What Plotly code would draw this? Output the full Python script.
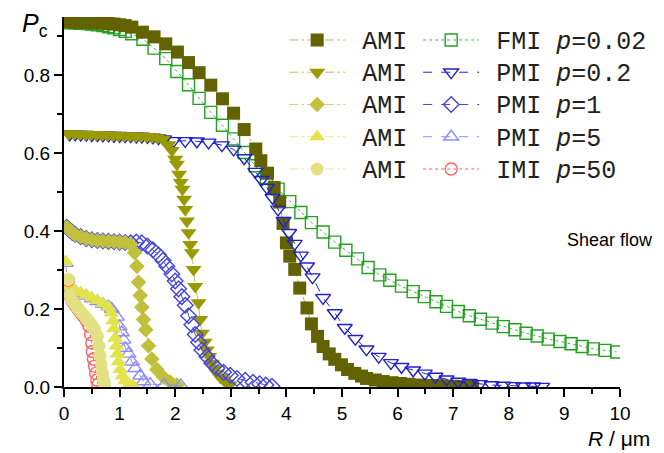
import plotly.graph_objects as go

# ---------------- data ----------------
R_ami_sq = [0.1,0.2,0.3,0.4,0.5,0.6,0.7,0.8,0.9,1.0,1.1,1.22,1.41,1.62,1.83,2.04,2.24,2.43,2.64,2.85,3.05,3.24,3.45,3.54,3.66,3.78,3.88,3.94,4.0,4.06,4.15,4.24,4.37,4.45,4.56,4.66,4.77,4.87,4.99,5.1,5.23,5.35,5.44,5.6,5.74,5.9,6.05,6.2,6.4,6.6,6.8,7.0,7.2,7.35]
P_ami_sq = [0.937,0.937,0.936,0.936,0.935,0.935,0.934,0.933,0.932,0.930,0.928,0.924,0.911,0.899,0.881,0.860,0.833,0.807,0.775,0.740,0.703,0.661,0.611,0.581,0.549,0.512,0.475,0.42,0.37,0.336,0.302,0.254,0.203,0.162,0.130,0.104,0.085,0.071,0.057,0.045,0.035,0.028,0.022,0.018,0.014,0.011,0.009,0.007,0.005,0.004,0.003,0.002,0.001,0.001]

R_fmi = [0.1,0.2,0.3,0.4,0.5,0.6,0.7,0.8,0.9,1.0,1.1,1.22,1.42,1.62,1.83,2.03,2.24,2.43,2.64,2.85,3.05,3.24,3.44,3.64,3.85,4.06,4.26,4.45,4.66,4.87,5.07,5.28,5.47,5.68,5.86,6.07,6.28,6.48,6.69,6.88,7.09,7.29,7.49,7.70,7.90,8.11,8.31,8.51,8.71,8.92,9.12,9.32,9.52,9.73,9.94]
P_fmi = [0.935,0.935,0.934,0.933,0.932,0.930,0.928,0.925,0.922,0.918,0.913,0.907,0.893,0.870,0.843,0.810,0.776,0.741,0.705,0.672,0.637,0.602,0.568,0.538,0.508,0.476,0.448,0.422,0.398,0.372,0.351,0.329,0.307,0.288,0.274,0.259,0.245,0.232,0.219,0.207,0.194,0.183,0.174,0.164,0.155,0.147,0.138,0.131,0.123,0.117,0.111,0.104,0.098,0.094,0.090]

R_ami_td = [0.08,0.18,0.28,0.38,0.48,0.58,0.68,0.78,0.88,0.98,1.08,1.18,1.28,1.38,1.48,1.58,1.68,1.78,1.88,1.94,2.0,2.03,2.07,2.10,2.13,2.16,2.18,2.21,2.24,2.27,2.30,2.33,2.36,2.42,2.45,2.48,2.53,2.57,2.61,2.66,2.70,2.75,2.81,2.87,2.93,2.98]
P_ami_td = [0.650,0.650,0.649,0.649,0.648,0.648,0.647,0.647,0.646,0.646,0.645,0.645,0.644,0.644,0.643,0.642,0.640,0.636,0.622,0.607,0.585,0.572,0.546,0.525,0.508,0.482,0.456,0.426,0.396,0.366,0.345,0.302,0.258,0.216,0.173,0.138,0.115,0.095,0.078,0.061,0.047,0.035,0.025,0.018,0.010,0.005]

R_pmi02 = [0.1,0.2,0.3,0.4,0.5,0.6,0.7,0.8,0.9,1.0,1.1,1.2,1.3,1.4,1.5,1.6,1.7,1.8,1.97,2.18,2.39,2.60,2.84,3.05,3.24,3.44,3.55,3.65,3.75,3.85,3.95,4.05,4.15,4.26,4.37,4.47,4.66,4.87,5.05,5.24,5.44,5.66,5.88,6.07,6.28,6.49,6.68,6.88,7.09,7.30,7.48,7.69,7.90,8.08,8.26,8.44,8.60]
P_pmi02 = [0.649,0.649,0.648,0.648,0.647,0.647,0.646,0.646,0.645,0.645,0.644,0.644,0.643,0.643,0.642,0.641,0.639,0.636,0.632,0.632,0.631,0.628,0.621,0.610,0.588,0.553,0.532,0.512,0.486,0.456,0.427,0.396,0.368,0.338,0.310,0.282,0.229,0.190,0.152,0.124,0.097,0.078,0.062,0.052,0.043,0.035,0.027,0.020,0.014,0.011,0.008,0.005,0.004,0.003,0.002,0.002,0.001]

R_ami_dm = [0.05,0.1,0.15,0.2,0.3,0.4,0.5,0.6,0.7,0.8,0.9,1.0,1.1,1.2,1.27,1.31,1.34,1.37,1.40,1.43,1.47,1.52,1.58,1.67,1.79,1.91,2.03]
P_ami_dm = [0.410,0.403,0.397,0.392,0.386,0.381,0.378,0.376,0.375,0.374,0.373,0.372,0.371,0.366,0.345,0.310,0.269,0.235,0.205,0.173,0.147,0.106,0.072,0.045,0.025,0.013,0.005]

R_pmi1 = [0.05,0.1,0.15,0.2,0.3,0.4,0.5,0.6,0.7,0.8,0.9,1.0,1.1,1.2,1.3,1.4,1.5,1.6,1.7,1.78,1.85,1.94,2.0,2.06,2.12,2.18,2.24,2.30,2.36,2.42,2.48,2.57,2.66,2.75,2.87,2.99,3.11,3.26,3.40,3.52,3.63,3.74]
P_pmi1 = [0.410,0.403,0.397,0.392,0.386,0.381,0.378,0.376,0.375,0.374,0.373,0.372,0.371,0.370,0.372,0.370,0.362,0.352,0.339,0.325,0.310,0.290,0.272,0.252,0.232,0.210,0.183,0.160,0.135,0.115,0.095,0.078,0.061,0.048,0.038,0.030,0.022,0.017,0.012,0.008,0.005,0.002]

R_ami_tu = [0.03,0.06,0.1,0.15,0.2,0.3,0.4,0.5,0.6,0.7,0.8,0.85,0.88,0.9,0.92,0.94,0.96,0.98,1.01,1.05,1.1,1.17,1.25]
P_ami_tu = [0.322,0.268,0.258,0.252,0.248,0.242,0.236,0.229,0.222,0.214,0.205,0.190,0.170,0.150,0.125,0.105,0.085,0.065,0.045,0.028,0.016,0.008,0.003]

R_pmi5 = [0.03,0.06,0.1,0.2,0.3,0.4,0.5,0.6,0.7,0.8,0.86,0.95,1.0,1.04,1.07,1.10,1.16,1.22,1.28,1.37,1.43,1.55,1.8,2.1]
P_pmi5 = [0.318,0.265,0.255,0.246,0.240,0.234,0.227,0.220,0.213,0.206,0.200,0.180,0.155,0.140,0.121,0.100,0.085,0.065,0.048,0.029,0.014,0.007,0.005,0.004]

R_ami_ci = [0.08,0.11,0.15,0.2,0.25,0.3,0.35,0.4,0.45,0.5,0.55,0.6,0.63,0.65,0.67,0.69,0.71,0.73]
P_ami_ci = [0.276,0.236,0.222,0.212,0.202,0.193,0.185,0.176,0.168,0.158,0.148,0.130,0.105,0.080,0.057,0.037,0.020,0.008]

R_imi = [0.08,0.11,0.15,0.2,0.25,0.3,0.35,0.4,0.45,0.48,0.50,0.51,0.53,0.55,0.57,0.59,0.61]
P_imi = [0.274,0.234,0.220,0.210,0.200,0.190,0.181,0.171,0.156,0.135,0.113,0.091,0.072,0.053,0.035,0.018,0.006]

fig = go.Figure()

def add(x, y, name, color, symbol, size, dash, legend, rank, mline=1.4, linecolor=None):
    fig.add_trace(go.Scatter(
        x=x, y=y, mode="lines+markers", name=name,
        line=dict(color=linecolor or color, width=1.0, dash=dash),
        marker=dict(symbol=symbol, size=size, color=color,
                    line=dict(width=mline if "open" in symbol else 0, color=color)),
        legend=legend, legendrank=rank))

def lab(t):
    return '<span style="font-size:20px"> </span><span style="font-size:25px">' + t + '</span>'

# draw order (back to front)
add(R_fmi, P_fmi, lab("FMI <i>p</i>=0.02"), "#22a022", "square-open", 12, "dot", "legend2", 1, linecolor="rgba(34,160,34,0.8)")
add(R_ami_sq, P_ami_sq, lab("AMI"), "#626200", "square", 13, "dashdot", "legend", 1, linecolor="rgba(98,98,0,0.5)")
add(R_pmi02, P_pmi02, lab("PMI <i>p</i>=0.2"), "#2020cc", "triangle-down-open", 13, "dash", "legend2", 2)
add(R_ami_td, P_ami_td, lab("AMI"), "#999900", "triangle-down", 14, "dashdot", "legend", 2, linecolor="rgba(153,153,0,0.6)")
add(R_pmi1, P_pmi1, lab("PMI <i>p</i>=1"), "#4444dd", "diamond-open", 12, "dash", "legend2", 3)
add(R_ami_dm, P_ami_dm, lab("AMI"), "#c0c03c", "diamond", 12, "dashdot", "legend", 3, linecolor="rgba(192,192,60,0.7)")
add(R_pmi5, P_pmi5, lab("PMI <i>p</i>=5"), "#8c8cff", "triangle-up-open", 13, "dash", "legend2", 4)
add(R_ami_tu, P_ami_tu, lab("AMI"), "#e3e34c", "triangle-up", 14, "dashdot", "legend", 4, linecolor="rgba(227,227,76,0.7)")
add(R_imi, P_imi, lab("IMI <i>p</i>=50"), "#ff6060", "circle-open", 12, "dot", "legend2", 5)
add(R_ami_ci, P_ami_ci, lab("AMI"), "#e2e284", "circle", 13, "dashdot", "legend", 5, linecolor="rgba(226,226,132,0.8)")

axis_common = dict(showgrid=False, zeroline=False, showline=True, linecolor="black", linewidth=2,
                   ticks="outside", ticklen=8, tickwidth=1.5, tickcolor="black",
                   tickfont=dict(family="Arial, Liberation Sans", size=19, color="black"))

fig.update_xaxes(range=[0, 10], dtick=1, tick0=0,
                 minor=dict(ticks="outside", ticklen=5, tickwidth=1.5, tickcolor="black", dtick=0.5),
                 **axis_common)
fig.update_yaxes(range=[0, 0.95], dtick=0.2, tick0=0, tickformat=".1f",
                 minor=dict(ticks="outside", ticklen=5, tickwidth=1.5, tickcolor="black", dtick=0.1),
                 **axis_common)

legfont = dict(family="Liberation Mono, Courier New, monospace", size=22.5, color="#222")
fig.update_layout(
    width=664, height=453,
    margin=dict(l=64, r=44, t=17, b=66),
    paper_bgcolor="white", plot_bgcolor="white",
    legend=dict(x=0.396, y=0.995, xanchor="left", yanchor="top", font=legfont,
                bgcolor="rgba(0,0,0,0)", itemwidth=56, tracegroupgap=0, traceorder="normal"),
    legend2=dict(x=0.637, y=0.995, xanchor="left", yanchor="top", font=legfont,
                 bgcolor="rgba(0,0,0,0)", itemwidth=56, tracegroupgap=0, traceorder="normal"),
    annotations=[
        dict(text="<i>P</i><sub>c</sub>", xref="paper", yref="paper", x=-0.08, y=0.978,
             xanchor="left", yanchor="middle", showarrow=False,
             font=dict(family="Arial, Liberation Sans", size=25, color="black")),
        dict(text="<i>R</i> / μm", xref="paper", yref="paper", x=1.058, y=-0.138,
             xanchor="right", yanchor="middle", showarrow=False,
             font=dict(family="Arial, Liberation Sans", size=21, color="black")),
        dict(text="Shear flow", xref="paper", yref="paper", x=1.063, y=0.397,
             xanchor="right", yanchor="middle", showarrow=False,
             font=dict(family="Arial, Liberation Sans", size=18, color="black")),
    ],
)

fig.write_html("out.html")
